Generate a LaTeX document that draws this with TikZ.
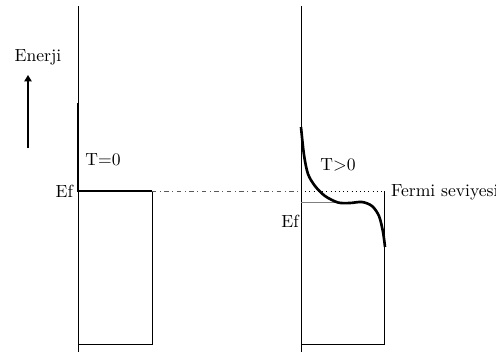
\documentclass[tikz,border=0pt]{standalone}
\usepackage{tikz}
\usetikzlibrary{arrows.meta}
\tikzset{
    axis line/.style={line width=0.5pt},
    level line/.style={line width=1.5pt},
    band label/.style={inner sep=1pt,font=\normalsize},
    >={[scale=0.8]Triangle}
}
\begin{document}
\begin{tikzpicture}[x=0.02cm,y=-0.02cm]
\useasboundingbox (0,0) rectangle (496,356);
\foreach \name/\x in {cold/78,warm/301}
    \draw[axis line] (\x,6) coordinate (\name_top) -- (\x,352) coordinate (\name_bot);
% energy arrow
\node[band label] (enerji) at (38,57) {Enerji};
\coordinate (arrow_tail) at (28,148);
\coordinate (arrow_head) at (28,75);
\draw[->,line width=0.7pt] (arrow_tail) -- (arrow_head);
% T=0
\coordinate (cold_start) at (78,103);
\coordinate (cold_ef) at (78,191);
\coordinate (cold_edge) at (152,191);
\coordinate (cold_corner) at (152,344);
\coordinate (cold_base) at (78,344);
\draw[level line] (cold_start) -- (cold_ef) -- (cold_edge);
\draw[axis line] (cold_edge) -- (cold_corner) -- (cold_base);
\node[band label,anchor=east] (ef_cold) at (75,191) {Ef};
\node[band label] (t_zero) at (103,160) {T=0};
% T>0
\coordinate (warm_level) at (301,191);
\coordinate (warm_edge) at (384,191);
\coordinate (warm_corner) at (384,344);
\coordinate (warm_base) at (301,344);
\coordinate (warm_ef) at (301,202);
\coordinate (warm_ef_end) at (340,202);
\draw[line width=0.4pt,gray!70!black,dash pattern=on 2.5pt off 2pt on 0.6pt off 2pt] (cold_edge) -- (warm_level);
\draw[line width=0.4pt,dotted] (warm_level) -- (warm_edge);
\draw[axis line] (warm_edge) -- (warm_corner) -- (warm_base);
\draw[axis line,gray] (warm_ef) -- (warm_ef_end);
\draw[level line] plot[smooth] coordinates {(301,127) (304,155) (308,174) (315,186) (325,196) (338,202.5) (350,203) (362,202) (372,206) (379,216) (383,232) (385,247)};
\node[band label] (t_warm) at (338,165) {T>0};
\node[band label,anchor=west] (fermi) at (389,192) {Fermi seviyesi};
\node[band label] (ef_warm) at (290,221) {Ef};
\end{tikzpicture}
\end{document}
